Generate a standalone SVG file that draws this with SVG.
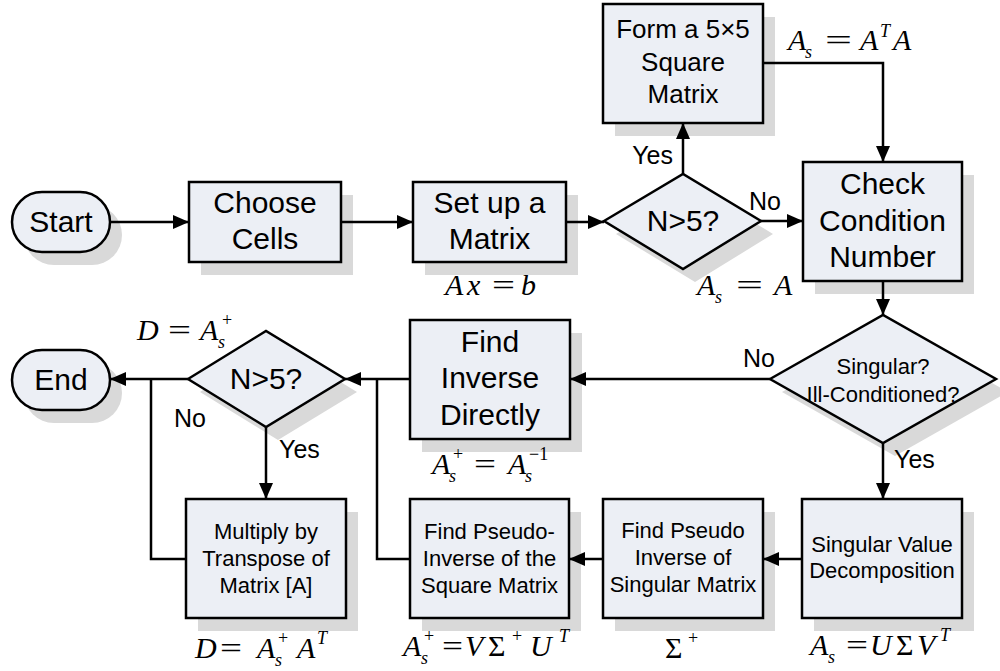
<svg xmlns="http://www.w3.org/2000/svg" width="1000" height="671" viewBox="0 0 1000 671">
  <defs>
    <marker id="arrow" markerWidth="16" markerHeight="14" refX="16" refY="7" orient="auto" markerUnits="userSpaceOnUse">
      <path d="M0,0 L16,7 L0,14 z" fill="#000"/>
    </marker>
    <style>
      .shadow { fill: #d9d9d9; }
      .box { fill: #eceff5; stroke: #000; stroke-width: 2.5; }
      .t { font-family: "Liberation Sans", Arial, sans-serif; fill: #000; text-anchor: middle; }
      .big { font-size: 30px; }
      .mid { font-size: 26px; }
      .small { font-size: 22px; }
      .lbl { font-family: "Liberation Sans", Arial, sans-serif; font-size: 25px; fill: #000; }
      .conn path { fill: none; stroke: #000; stroke-width: 2.5; }
      .m { font-family: "Liberation Serif", "Times New Roman", serif; font-style: italic; font-size: 30px; fill: #000; }
      .r { font-style: normal; }
      .s { font-size: 18px; }
    </style>
  </defs>

  <g id="start">
    <rect class="shadow" x="24" y="205" width="98" height="60" rx="30"/>
    <rect class="box" x="12" y="192" width="98" height="60" rx="30"/>
    <text class="t big" x="61" y="232">Start</text>
  </g>

  <g id="choose-cells">
    <rect class="shadow" x="201" y="195" width="152" height="80"/>
    <rect class="box" x="189" y="182" width="152" height="80"/>
    <text class="t big" x="265" y="213">Choose</text>
    <text class="t big" x="265" y="249">Cells</text>
  </g>

  <g id="set-up-matrix">
    <rect class="shadow" x="425" y="195" width="153" height="80"/>
    <rect class="box" x="413" y="182" width="153" height="80"/>
    <text class="t big" x="489.5" y="213">Set up a</text>
    <text class="t big" x="489.5" y="249">Matrix</text>
  </g>

  <g id="decide-n1">
    <polygon class="shadow" points="616,234 695,187 773,234 695,282"/>
    <polygon class="box" points="604,221 683,174 761,221 683,269"/>
    <text class="t big" x="683" y="231">N&gt;5?</text>
  </g>

  <g id="form-square">
    <rect class="shadow" x="615" y="17" width="160" height="119"/>
    <rect class="box" x="603" y="4" width="160" height="119"/>
    <text class="t mid" x="683" y="38">Form a 5×5</text>
    <text class="t mid" x="683" y="71">Square</text>
    <text class="t mid" x="683" y="103">Matrix</text>
  </g>

  <g id="check-condition">
    <rect class="shadow" x="815" y="175" width="159" height="119"/>
    <rect class="box" x="803" y="162" width="159" height="119"/>
    <text class="t big" x="882.5" y="194">Check</text>
    <text class="t big" x="882.5" y="231">Condition</text>
    <text class="t big" x="882.5" y="267">Number</text>
  </g>

  <g id="decide-singular">
    <polygon class="shadow" points="782,392 895,328 1008,392 895,456"/>
    <polygon class="box" points="770,379 883,315 996,379 883,443"/>
    <text class="t small" x="883" y="374">Singular?</text>
    <text class="t small" x="883" y="402">Ill-Conditioned?</text>
  </g>

  <g id="find-inverse">
    <rect class="shadow" x="422" y="333" width="160" height="119"/>
    <rect class="box" x="410" y="320" width="160" height="119"/>
    <text class="t big" x="490" y="352">Find</text>
    <text class="t big" x="490" y="388">Inverse</text>
    <text class="t big" x="490" y="425">Directly</text>
  </g>

  <g id="decide-n2">
    <polygon class="shadow" points="200,392 278,344 357,392 278,440"/>
    <polygon class="box" points="188,379 266,331 345,379 266,427"/>
    <text class="t big" x="266" y="389">N&gt;5?</text>
  </g>

  <g id="end">
    <rect class="shadow" x="24" y="363" width="98" height="60" rx="30"/>
    <rect class="box" x="12" y="350" width="98" height="60" rx="30"/>
    <text class="t big" x="61" y="390">End</text>
  </g>

  <g id="multiply-transpose">
    <rect class="shadow" x="198" y="512" width="160" height="119"/>
    <rect class="box" x="186" y="499" width="160" height="119"/>
    <text class="t small" x="266" y="539">Multiply by</text>
    <text class="t small" x="266" y="566">Transpose of</text>
    <text class="t small" x="266" y="593">Matrix [A]</text>
  </g>

  <g id="pseudo-square">
    <rect class="shadow" x="422" y="512" width="159" height="119"/>
    <rect class="box" x="410" y="499" width="159" height="119"/>
    <text class="t small" x="489.5" y="539">Find Pseudo-</text>
    <text class="t small" x="489.5" y="566">Inverse of the</text>
    <text class="t small" x="489.5" y="593">Square Matrix</text>
  </g>

  <g id="pseudo-singular">
    <rect class="shadow" x="615" y="512" width="160" height="119"/>
    <rect class="box" x="603" y="499" width="160" height="119"/>
    <text class="t small" x="683" y="538">Find Pseudo</text>
    <text class="t small" x="683" y="565">Inverse of</text>
    <text class="t small" x="683" y="592">Singular Matrix</text>
  </g>

  <g id="svd">
    <rect class="shadow" x="814" y="512" width="160" height="119"/>
    <rect class="box" x="802" y="499" width="160" height="119"/>
    <text class="t small" x="882" y="552">Singular Value</text>
    <text class="t small" x="882" y="578">Decomposition</text>
  </g>

  <!-- connectors, drawn above the node shadows -->
  <g id="connectors" class="conn">
    <path d="M110,222 H189" marker-end="url(#arrow)"/>
    <path d="M341,222 H413" marker-end="url(#arrow)"/>
    <path d="M566,222 H604" marker-end="url(#arrow)"/>
    <path d="M761,221 H803" marker-end="url(#arrow)"/>
    <path d="M683,174 V123" marker-end="url(#arrow)"/>
    <path d="M763,63 H883 V162" marker-end="url(#arrow)"/>
    <path d="M883,281 V315" marker-end="url(#arrow)"/>
    <path d="M770,379 H570" marker-end="url(#arrow)"/>
    <path d="M883,443 V499" marker-end="url(#arrow)"/>
    <path d="M802,559 H763" marker-end="url(#arrow)"/>
    <path d="M603,559 H569" marker-end="url(#arrow)"/>
    <path d="M410,379 H345" marker-end="url(#arrow)"/>
    <path d="M410,559 H377 V379"/>
    <path d="M188,379 H110" marker-end="url(#arrow)"/>
    <path d="M266,427 V499" marker-end="url(#arrow)"/>
    <path d="M186,559 H151 V379"/>
  </g>

  <!-- connector labels -->
  <g id="labels">
    <text class="lbl" x="673" y="164" text-anchor="end">Yes</text>
    <text class="lbl" x="749" y="210">No</text>
    <text class="lbl" x="743" y="367">No</text>
    <text class="lbl" x="894" y="468">Yes</text>
    <text class="lbl" x="174" y="427">No</text>
    <text class="lbl" x="279" y="458">Yes</text>
  </g>

  <!-- equations -->
  <g id="equations">
    <text class="m"><tspan x="788" y="50">A</tspan><tspan class="s" x="805" y="58">s</tspan><tspan class="r" x="825" y="50" textLength="27" lengthAdjust="spacingAndGlyphs">=</tspan><tspan x="860" y="50">A</tspan><tspan class="s" x="880" y="37">T</tspan><tspan x="893" y="50">A</tspan></text>

    <text class="m"><tspan x="445" y="295">A</tspan><tspan x="467" y="295">x</tspan><tspan class="r" x="492" y="295" textLength="23" lengthAdjust="spacingAndGlyphs">=</tspan><tspan x="521" y="295">b</tspan></text>

    <text class="m"><tspan x="697" y="295">A</tspan><tspan class="s" x="715" y="303">s</tspan><tspan class="r" x="736" y="295" textLength="27" lengthAdjust="spacingAndGlyphs">=</tspan><tspan x="774" y="295">A</tspan></text>

    <text class="m"><tspan x="137" y="340">D</tspan><tspan class="r" x="168" y="340" textLength="23" lengthAdjust="spacingAndGlyphs">=</tspan><tspan x="200" y="340">A</tspan><tspan class="s" x="218" y="348">s</tspan><tspan class="r s" x="222" y="326">+</tspan></text>

    <text class="m"><tspan x="432" y="474">A</tspan><tspan class="s" x="449" y="482">s</tspan><tspan class="r s" x="453" y="460">+</tspan><tspan class="r" x="474" y="474" textLength="22" lengthAdjust="spacingAndGlyphs">=</tspan><tspan x="508" y="474">A</tspan><tspan class="s" x="525" y="482">s</tspan><tspan class="r s" x="529" y="460">−1</tspan></text>

    <text class="m"><tspan x="195" y="658">D</tspan><tspan class="r" x="220" y="658" textLength="22" lengthAdjust="spacingAndGlyphs">=</tspan><tspan x="257" y="658">A</tspan><tspan class="s" x="275" y="666">s</tspan><tspan class="r s" x="278" y="644">+</tspan><tspan x="297" y="658">A</tspan><tspan class="s" x="317" y="644">T</tspan></text>

    <text class="m"><tspan x="403" y="656">A</tspan><tspan class="s" x="421" y="664">s</tspan><tspan class="r s" x="424" y="642">+</tspan><tspan class="r" x="442" y="656" textLength="21" lengthAdjust="spacingAndGlyphs">=</tspan><tspan x="465" y="656">V</tspan><tspan class="r" x="488" y="656">Σ</tspan><tspan class="r s" x="512" y="642">+</tspan><tspan x="530" y="656">U</tspan><tspan class="s" x="559" y="642">T</tspan></text>

    <text class="m"><tspan class="r" x="665" y="658">Σ</tspan><tspan class="r s" x="688" y="644">+</tspan></text>

    <text class="m"><tspan x="810" y="655">A</tspan><tspan class="s" x="828" y="663">s</tspan><tspan class="r" x="846" y="655" textLength="22" lengthAdjust="spacingAndGlyphs">=</tspan><tspan x="870" y="655">U</tspan><tspan class="r" x="896" y="655">Σ</tspan><tspan x="917" y="655">V</tspan><tspan class="s" x="940" y="641">T</tspan></text>
  </g>
</svg>
